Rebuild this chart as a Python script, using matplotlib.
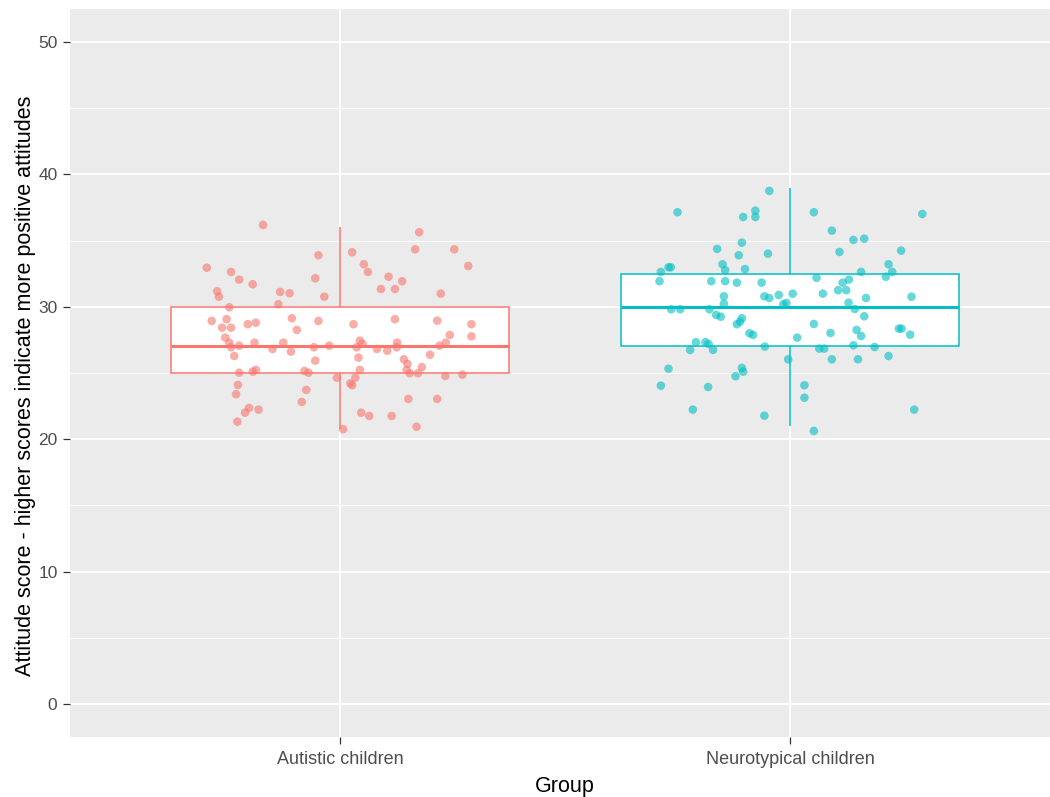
import matplotlib
matplotlib.use("Agg")
import matplotlib.pyplot as plt
import numpy as np

plt.rcParams['font.family'] = ['Liberation Sans', 'DejaVu Sans']

groups = ["Autistic children", "Neurotypical children"]
colors = ["#F8766D", "#00BFC4"]

# Box summaries per group: lower whisker, Q1, median, Q3, upper whisker
box_low = [20.8, 21.0]
box_q1 = [25.0, 27.0]
box_med = [27.0, 30.0]
box_q3 = [30.0, 32.5]
box_high = [36.0, 39.0]

# Jittered observations: horizontal offset from group centre and score
aut_dx = [-0.171, -0.296, -0.242, -0.224, -0.194, -0.273, -0.269, -0.246, -0.133, -0.112,
          -0.137, -0.048, -0.055, -0.035, -0.285, -0.252, -0.205, -0.187, -0.107, -0.048,
          -0.262, -0.242, -0.096, 0.176, 0.027, 0.167, 0.254, 0.053, 0.062, 0.285,
          0.108, 0.138, 0.091, 0.122, 0.224, 0.030, 0.122, 0.216, 0.292, -0.255,
          -0.246, -0.224, -0.242, -0.190, -0.126, -0.150, -0.109, -0.058, -0.024, -0.235,
          -0.055, -0.224, -0.194, -0.187, -0.079, -0.070, -0.007, -0.227, -0.231, -0.075,
          -0.085, -0.202, -0.211, -0.181, -0.228, 0.244, 0.292, 0.044, 0.050, 0.037,
          0.127, 0.126, 0.082, 0.105, 0.221, 0.235, 0.041, 0.200, 0.142, 0.150,
          0.182, 0.148, 0.155, 0.173, 0.044, 0.234, 0.272, 0.034, 0.023, 0.027,
          0.152, 0.216, 0.047, 0.065, 0.115, 0.170, 0.007]
aut_score = [36.18, 32.95, 32.63, 32.05, 31.70, 31.17, 30.76, 29.96, 31.12, 31.02,
             30.19, 33.89, 32.15, 30.76, 28.93, 29.06, 28.68, 28.80, 29.13, 28.93,
             28.42, 28.42, 28.25, 35.63, 34.12, 34.34, 34.34, 33.21, 32.63, 33.08,
             32.27, 31.93, 31.34, 31.34, 30.99, 28.68, 29.06, 28.95, 28.68, 27.67,
             27.29, 27.06, 26.94, 27.29, 27.29, 26.81, 26.61, 26.94, 27.06, 26.28,
             25.93, 25.02, 25.10, 25.23, 25.15, 25.02, 24.64, 24.09, 23.39, 23.72,
             22.81, 22.36, 22.00, 22.23, 21.32, 27.87, 27.77, 27.44, 27.21, 26.94,
             27.29, 26.94, 26.81, 26.68, 27.06, 27.29, 26.16, 26.38, 26.03, 25.68,
             25.45, 25.23, 24.98, 24.98, 25.23, 24.77, 24.87, 24.64, 24.22, 24.07,
             23.04, 23.04, 22.00, 21.75, 21.75, 20.94, 20.75]

nt_dx = [-0.046, -0.250, -0.077, -0.104, -0.077, -0.107, -0.162, -0.114, -0.049, -0.270,
         -0.265, -0.150, -0.144, -0.100, -0.287, -0.290, -0.175, -0.144, -0.118, -0.063,
         -0.147, -0.057, -0.046, -0.025, -0.147, -0.015, -0.008, -0.264, -0.244, -0.179,
         -0.164, -0.154, -0.107, -0.111, -0.118, -0.090, -0.082, -0.209, -0.188, -0.181,
         -0.222, -0.171, -0.056, -0.004, -0.270, -0.107, -0.104, -0.121, -0.287, -0.182,
         -0.216, -0.057, 0.053, 0.294, 0.093, 0.141, 0.165, 0.110, 0.247, 0.219,
         0.227, 0.158, 0.059, 0.117, 0.131, 0.213, 0.107, 0.125, 0.006, 0.073,
         0.169, 0.270, 0.130, 0.144, 0.165, 0.053, 0.090, 0.148, 0.158, 0.016,
         0.242, 0.248, 0.267, 0.141, 0.188, 0.065, 0.076, 0.093, 0.151, 0.219,
         0.032, 0.032, 0.276, 0.053]
nt_score = [38.75, 37.14, 37.26, 36.78, 36.78, 34.84, 34.37, 33.89, 34.01, 32.98,
            32.98, 33.21, 32.76, 32.85, 32.63, 31.93, 31.93, 31.93, 31.82, 31.82,
            30.79, 30.79, 30.66, 30.89, 30.23, 30.19, 30.29, 29.81, 29.81, 29.81,
            29.38, 29.25, 29.13, 28.87, 28.68, 28.00, 27.87, 27.32, 27.32, 27.19,
            26.74, 26.74, 26.99, 26.03, 25.32, 25.38, 25.10, 24.75, 24.04, 23.94,
            22.23, 21.77, 37.14, 37.01, 35.75, 35.05, 35.14, 34.14, 34.24, 33.21,
            32.63, 32.63, 32.18, 31.82, 32.05, 32.27, 31.25, 31.25, 30.99, 30.99,
            30.66, 30.76, 30.31, 29.83, 29.28, 28.70, 28.02, 28.25, 27.79, 27.67,
            28.35, 28.35, 27.89, 27.09, 26.96, 26.84, 26.84, 26.03, 26.03, 26.28,
            24.07, 23.13, 22.23, 20.62]

y_ticks = [0, 10, 20, 30, 40, 50]

fig = plt.figure(figsize=(10.5, 7.97), dpi=100)
ax = fig.add_axes([70 / 1050, 1 - 737 / 797, 990 / 1050, (737 - 8.9) / 797])
ax.set_facecolor("#EBEBEB")

# grid in the ggplot2 grey theme
for y in np.arange(5, 50, 10):
    ax.axhline(y, color="white", lw=0.7, zorder=0)
for y in y_ticks:
    ax.axhline(y, color="white", lw=1.3, zorder=0)
for x in (1, 2):
    ax.axvline(x, color="white", lw=1.3, zorder=0)

box_w = 0.375
for i, c in enumerate(colors):
    x = i + 1
    # whiskers
    ax.plot([x, x], [box_q3[i], box_high[i]], color=c, lw=1.1, zorder=2, solid_capstyle="butt")
    ax.plot([x, x], [box_low[i], box_q1[i]], color=c, lw=1.1, zorder=2, solid_capstyle="butt")
    # box
    rect = plt.Rectangle((x - box_w, box_q1[i]), 2 * box_w, box_q3[i] - box_q1[i],
                         facecolor="white", edgecolor=c, lw=1.1, zorder=2)
    ax.add_patch(rect)
    ax.plot([x - box_w, x + box_w], [box_med[i], box_med[i]], color=c, lw=2.2,
            zorder=3, solid_capstyle="butt")

ax.scatter(1 + np.array(aut_dx), aut_score, s=38, color=colors[0], alpha=0.6,
           edgecolors="none", zorder=4)
ax.scatter(2 + np.array(nt_dx), nt_score, s=38, color=colors[1], alpha=0.6,
           edgecolors="none", zorder=4)

ax.set_xlim(0.4, 2.6)
ax.set_ylim(-2.5, 52.5)
ax.set_xticks([1, 2])
ax.set_xticklabels(groups)
ax.set_yticks(y_ticks)
for s in ax.spines.values():
    s.set_visible(False)
ax.tick_params(axis="both", colors="#333333", length=5, width=0.9,
               labelcolor="#4D4D4D", labelsize=12.5)
ax.tick_params(axis="x", pad=5, labelsize=13)
ax.tick_params(axis="y", pad=4)

ax.set_xlabel("Group", fontsize=15.5, color="black", labelpad=6)
ax.set_ylabel("Attitude score - higher scores indicate more positive attitudes",
              fontsize=15.5, color="black", labelpad=1.5)
ax.yaxis.label.set_y(0.483)

fig.savefig("out.png", dpi=100)
